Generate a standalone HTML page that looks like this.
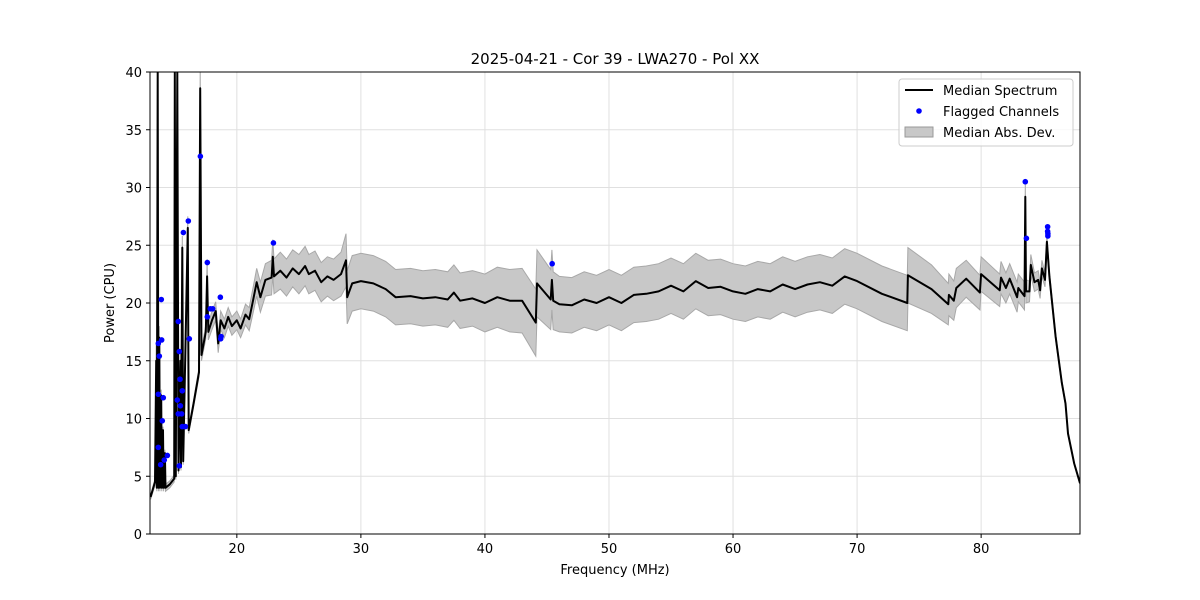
<!DOCTYPE html>
<html><head><meta charset="utf-8">
<style>
html,body{margin:0;padding:0;background:#fff;}
svg{display:block;font-family:"DejaVu Sans","Liberation Sans",sans-serif;}
</style></head>
<body>
<svg id="chart" width="1200" height="600" viewBox="0 0 1200 600" xmlns="http://www.w3.org/2000/svg">
<rect x="0" y="0" width="1200" height="600" fill="#fff"/>
<g id="grid"></g>
<g id="plot"></g>
<g id="axes"></g>
<text x="615" y="64" text-anchor="middle" font-size="15">2025-04-21 - Cor 39 - LWA270 - Pol XX</text>
<text x="615" y="574" text-anchor="middle" font-size="13">Frequency (MHz)</text>
<text transform="translate(114,303) rotate(-90)" text-anchor="middle" font-size="13">Power (CPU)</text>
<g>
<rect x="899" y="79" width="174" height="67" rx="3" fill="#fff" fill-opacity="0.8" stroke="#ccc"/>
<line x1="905" y1="90" x2="933" y2="90" stroke="#000" stroke-width="2"/>
<text x="943" y="95" font-size="13">Median Spectrum</text>
<circle cx="919" cy="111" r="2.8" fill="#0000ff"/>
<text x="943" y="116" font-size="13">Flagged Channels</text>
<rect x="905" y="127" width="28" height="10" fill="#c8c8c8" stroke="#999"/>
<text x="943" y="137" font-size="13">Median Abs. Dev.</text>
</g>
</svg>
<script>
const freqs = [13.05,13.4,13.5,13.55,13.62,13.68,13.75,13.8,13.9,13.95,
14.05,14.1,14.2,14.25,14.6,14.95,15.0,15.08,15.2,15.3,
15.45,15.5,15.6,15.68,16.05,16.12,16.5,16.95,17.05,17.15,
17.5,17.6,17.7,
18.0,18.3,18.5,18.7,19.0,19.3,19.6,20.0,20.3,20.7,
21.0,21.3,21.6,21.9,22.3,22.8,22.9,23.0,23.5,24,
24.5,25,25.5,25.8,26.3,26.8,27.3,27.8,28.4,28.8,
28.9,29.3,30,31,32,32.8,34,35,36,37,
37.5,38,39,40,41,42,43,44.1,44.2,45.3,
45.4,45.5,46,47,48,49,50,51,52,53,
54,55,56,57,58,59,60,61,62,63,
64,65,66,67,68,69,70,72,74.05,74.1,
76,77.35,77.4,77.8,78.0,78.8,79.9,80.0,81.5,81.6,
82.0,82.3,82.9,83.0,83.5,83.56,83.62,83.9,84.0,84.3,
84.6,84.75,84.9,85.15,85.3,85.5,86.0,86.5,86.8,87.0,
87.5,87.97];
const median = [3.2,4.5,15,4,40,4,17,4,12,4,
9,4,7,4,4.3,4.8,40,5,40,5.5,
15,5.8,24.8,6.3,26.5,9,11.2,14,38.6,15.5,
17.5,22.3,17.5,
18.5,19.3,16.5,18.5,17.8,18.8,18.0,18.5,17.8,19.0,
18.6,20.2,21.8,20.5,22.0,22.2,24,22.3,22.8,22.2,
23.0,22.5,23.2,22.5,22.8,21.8,22.3,22.0,22.5,23.7,
20.5,21.7,21.9,21.7,21.2,20.5,20.6,20.4,20.5,20.3,
20.9,20.2,20.4,20.0,20.5,20.2,20.2,18.3,21.7,20.3,
22,20.2,19.9,19.8,20.3,20.0,20.5,20.0,20.7,20.8,
21.0,21.5,21.0,21.9,21.3,21.4,21.0,20.8,21.2,21.0,
21.6,21.2,21.6,21.8,21.5,22.3,21.9,20.8,20.0,22.4,
21.2,19.9,20.7,20.2,21.3,22.1,20.9,22.5,21.1,22.2,
21.3,22.1,20.5,21.3,20.6,29.2,21.0,21.0,23.3,21.8,
22.0,21.1,23.0,22.0,25.3,22.3,17.1,13.1,11.3,8.7,
6.1,4.4];
const mad = [0.2,0.3,1.5,0.3,0.3,0.3,1.0,0.3,0.5,0.3,
0.3,0.3,0.3,0.3,0.3,0.3,0.3,0.3,0.3,0.3,
1,0.3,1,0.3,1,0.3,0.3,0.4,2,0.5,
0.6,1.5,0.7,
0.8,0.8,0.8,0.8,0.8,0.8,0.8,0.8,0.8,0.9,
1.0,1.1,1.2,1.3,1.4,1.5,1.5,1.5,1.6,1.6,
1.6,1.7,1.7,1.7,1.7,1.7,1.7,1.8,1.9,2.3,
2.3,2.4,2.4,2.4,2.4,2.4,2.4,2.4,2.4,2.4,
2.4,2.4,2.4,2.5,2.6,2.7,2.8,2.9,2.9,2.6,
2.6,2.5,2.4,2.4,2.4,2.4,2.4,2.4,2.4,2.4,
2.4,2.4,2.4,2.4,2.4,2.4,2.4,2.4,2.4,2.4,
2.4,2.4,2.4,2.4,2.4,2.4,2.4,2.4,2.4,2.4,
2.1,1.8,1.8,1.7,1.7,1.6,1.5,1.5,1.4,1.4,
1.3,1.3,1.3,1.2,1.2,1.2,1.0,0.9,0.9,0.8,
0.8,0.7,0.7,0.6,0.6,0.4,0.3,0.2,0.2,0.1,
0.1,0.1];
const flagFreqs = [13.91,13.67,13.94,13.75,13.67,14.07,13.99,13.67,13.86,14.15,14.4,
15.28,15.36,15.2,15.42,15.6,15.45,15.28,15.55,15.6,15.85,15.36,15.69,16.09,16.17,
17.06,17.62,17.62,17.86,18.05,18.67,18.7,18.73,22.95,45.42,83.56,83.65,85.36,85.36,85.38,85.38];
const flagValues = [20.3,16.5,16.8,15.4,12.1,11.8,9.8,7.5,6.0,6.4,6.8,
18.4,15.8,11.6,13.4,12.4,11.1,10.4,10.4,9.3,9.3,5.9,26.1,27.1,16.9,
32.7,23.5,18.8,19.5,19.5,20.5,16.9,17.1,25.2,23.4,30.5,25.6,26.6,26.2,26.0,25.8];
const xTicks = [20,30,40,50,60,70,80];
const yTicks = [0,5,10,15,20,25,30,35,40];

const L=150,R=1080,T=72,B=534, X0=13.0, X1=87.97, Y0=0, Y1=40;
const xs = f => L + (f-X0)/(X1-X0)*(R-L);
const ys = v => B - (Math.min(v,42)-Y0)/(Y1-Y0)*(B-T);
const NS='http://www.w3.org/2000/svg';
function mk(tag, attrs, parent){const e=document.createElementNS(NS,tag);for(const k in attrs)e.setAttribute(k,attrs[k]);parent.appendChild(e);return e;}
const grid=document.getElementById('grid'), plot=document.getElementById('plot'), axes=document.getElementById('axes');
const clip=mk('clipPath',{id:'clipArea'},document.getElementById('chart'));
mk('rect',{x:L,y:T,width:R-L,height:B-T},clip);
xTicks.forEach(t=>{
  const g=mk('line',{x1:xs(t),x2:xs(t),y1:T,y2:B,stroke:'#e0e0e0','stroke-width':1},grid);
  
  
  mk('line',{x1:xs(t),x2:xs(t),y1:B,y2:B+4,stroke:'#000'},axes);
  const tx=mk('text',{x:xs(t),y:B+19,'text-anchor':'middle','font-size':13},axes);
  tx.textContent=t;
  
  
});
yTicks.forEach(t=>{
  const g=mk('line',{x1:L,x2:R,y1:ys(t),y2:ys(t),stroke:'#e0e0e0','stroke-width':1},grid);
  
  
  mk('line',{x1:L-4,x2:L,y1:ys(t),y2:ys(t),stroke:'#000'},axes);
  const tx=mk('text',{x:L-8,y:ys(t)+5,'text-anchor':'end','font-size':13},axes);
  tx.textContent=t;
  
  
});
const pg=mk('g',{'clip-path':'url(#clipArea)'},plot);
let up='',lo='';
freqs.forEach((f,i)=>{up+=(i?'L':'M')+xs(f).toFixed(1)+','+ys(median[i]+mad[i]).toFixed(1);});
for(let i=freqs.length-1;i>=0;i--){lo+='L'+xs(freqs[i]).toFixed(1)+','+ys(Math.max(0,median[i]-mad[i])).toFixed(1);}
const band=mk('path',{d:up+lo+'Z',fill:'#c8c8c8',stroke:'#a8a8a8','stroke-width':1},pg);


let md='';
freqs.forEach((f,i)=>{md+=(i?'L':'M')+xs(f).toFixed(1)+','+ys(median[i]).toFixed(1);});
const line=mk('path',{d:md,fill:'none',stroke:'#000','stroke-width':2,'stroke-linejoin':'round'},pg);


flagFreqs.forEach((f,i)=>{
  const c=mk('circle',{cx:xs(f),cy:ys(flagValues[i]),r:2.8,fill:'#0000ff'},pg);
  
  
});
const frame=mk('rect',{x:L,y:T,width:R-L,height:B-T,fill:'none',stroke:'#000','stroke-width':1},axes);


</script>
</body></html>
